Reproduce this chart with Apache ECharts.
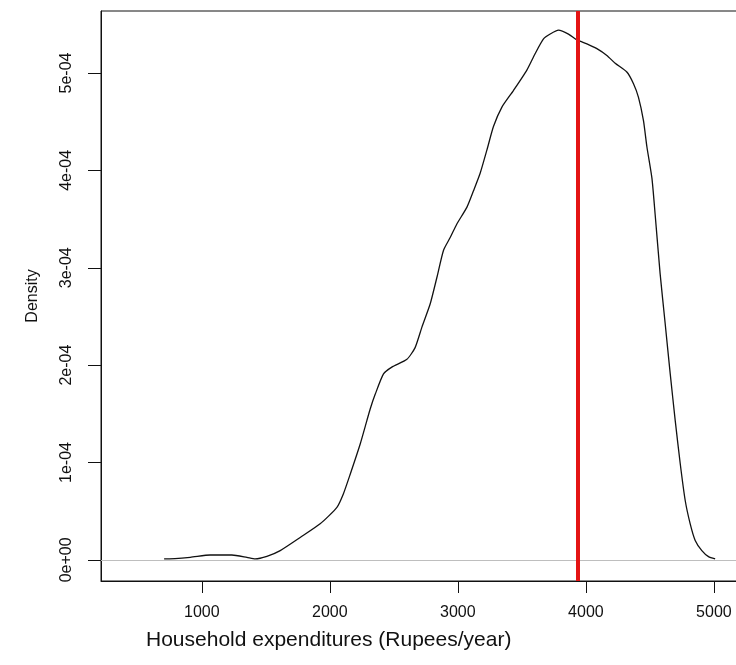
<!DOCTYPE html>
<html>
<head>
<meta charset="utf-8">
<script src="https://cdn.jsdelivr.net/npm/echarts@6/dist/echarts.min.js"></script>
<style>
html,body{margin:0;padding:0;background:#fff;overflow:hidden;}
#chart{width:770px;height:665px;}
</style>
</head>
<body>
<div id="chart"></div>
<script>
// Density curve (x: Rupees/year, y: density)
const xVals = [705, 714, 909, 1065, 1234, 1352, 1416, 1508, 1612, 1768, 1924, 2055, 2106, 2159, 2237, 2289, 2315, 2354, 2419, 2484, 2602, 2666, 2719, 2784, 2836, 2888, 2940, 2992, 3070, 3122, 3174, 3227, 3278, 3344, 3434, 3539, 3604, 3669, 3721, 3786, 3864, 3930, 4008, 4086, 4164, 4229, 4320, 4372, 4411, 4450, 4477, 4516, 4541, 4580, 4620, 4659, 4698, 4737, 4776, 4815, 4854, 4906, 4958, 5010];
const yVals = [0.10e-5, 0.10e-5, 0.26e-5, 0.50e-5, 0.50e-5, 0.26e-5, 0.10e-5, 0.36e-5, 0.95e-5, 2.3e-5, 3.7e-5, 5.4e-5, 6.8e-5, 8.8e-5, 11.9e-5, 14.3e-5, 15.5e-5, 17.0e-5, 19.1e-5, 19.8e-5, 20.6e-5, 21.8e-5, 23.9e-5, 26.3e-5, 29.0e-5, 31.8e-5, 33.1e-5, 34.5e-5, 36.2e-5, 37.9e-5, 39.7e-5, 42.1e-5, 44.5e-5, 46.5e-5, 48.2e-5, 50.3e-5, 52.0e-5, 53.5e-5, 54.0e-5, 54.4e-5, 54.0e-5, 53.4e-5, 53.0e-5, 52.5e-5, 51.8e-5, 51.0e-5, 50.1e-5, 48.9e-5, 47.5e-5, 45.1e-5, 42.4e-5, 39.2e-5, 35.5e-5, 29.4e-5, 24.2e-5, 19.1e-5, 14.3e-5, 9.9e-5, 6.1e-5, 3.7e-5, 2.0e-5, 0.95e-5, 0.33e-5, 0.10e-5];
const meanLine = 3934;
const xTicks = [1000, 2000, 3000, 4000, 5000];
const xTickLabels = ['1000', '2000', '3000', '4000', '5000'];
const yTicks = [0, 1e-4, 2e-4, 3e-4, 4e-4, 5e-4];
const yTickLabels = ['0e+00', '1e-04', '2e-04', '3e-04', '4e-04', '5e-04'];
const xTitle = 'Household expenditures (Rupees/year)';
const yTitle = 'Density';

const curve = xVals.map((x, i) => [x, yVals[i]]);
function nearestLabel(values, labels, v) {
  let best = 0;
  for (let i = 0; i < values.length; i++) if (Math.abs(values[i] - v) < Math.abs(values[best] - v)) best = i;
  return labels[best];
}

const chart = echarts.init(document.getElementById('chart'), null, {renderer: 'canvas'});
const font = 'Liberation Sans, Arial, sans-serif';
chart.setOption({
  animation: false,
  backgroundColor: '#fff',
  grid: {left: 101, top: 11, width: 650, height: 570, show: true, borderColor: '#111', borderWidth: 1, containLabel: false},
  xAxis: {
    type: 'value', min: 212, max: 5290,
    axisLine: {show: true, onZero: false, lineStyle: {color: '#111', width: 1}},
    splitLine: {show: false},
    axisTick: {show: true, length: 12, customValues: xTicks, lineStyle: {color: '#111'}},
    axisLabel: {customValues: xTicks, margin: 24, fontFamily: font, fontSize: 16, color: '#111',
      formatter: function (v) { return nearestLabel(xTicks, xTickLabels, v); }}
  },
  yAxis: {
    type: 'value', min: -0.2168e-4, max: 5.6368e-4,
    axisLine: {show: true, onZero: false, lineStyle: {color: '#111', width: 1}},
    splitLine: {show: false},
    axisTick: {show: true, length: 13, customValues: yTicks, lineStyle: {color: '#111'}},
    axisLabel: {customValues: yTicks, rotate: 90, margin: 26, fontFamily: font, fontSize: 16, color: '#111',
      formatter: function (v) { return nearestLabel(yTicks, yTickLabels, v); }}
  },
  series: [
    {
      type: 'line', data: curve, symbol: 'none', smooth: 0.2,
      lineStyle: {color: '#111', width: 1.3},
      markLine: {
        silent: true, symbol: 'none', label: {show: false}, animation: false,
        data: [
          {yAxis: 0, lineStyle: {color: '#bebebe', width: 1, type: 'solid'}},
          {xAxis: meanLine, lineStyle: {color: '#e41414', width: 4, type: 'solid'}}
        ]
      },
      z: 3
    }
  ],
  graphic: [
    {type: 'text', left: 146, top: 630, style: {text: xTitle, font: '21px ' + font, fill: '#111'}},
    {type: 'text', x: 33, y: 296, rotation: Math.PI / 2, style: {text: yTitle, font: '16px ' + font, fill: '#111', align: 'center', verticalAlign: 'middle'}}
  ]
});
</script>
</body>
</html>
